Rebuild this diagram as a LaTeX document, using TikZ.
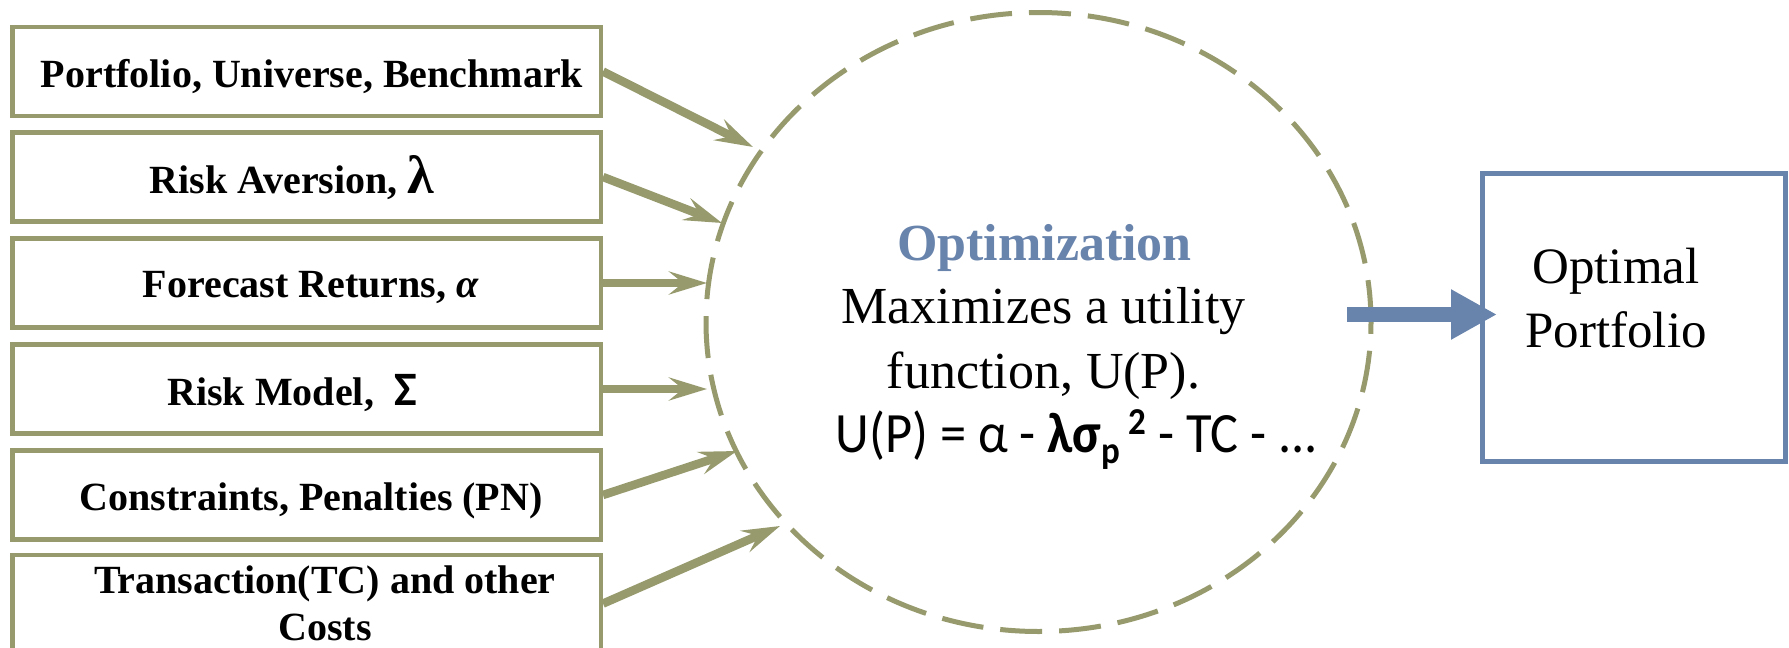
\documentclass[tikz,border=0pt]{standalone}
\usepackage{fontspec}
\setmainfont{Liberation Serif}
\newfontfamily\calfont{Carlito}
\usetikzlibrary{arrows.meta,shapes.geometric}
\definecolor{olivegrn}{RGB}{151,154,108}
\definecolor{steelblu}{RGB}{104,131,172}

% bold index set below / above the baseline
\newcommand{\lowidx}[1]{\raisebox{-5.5pt}{\fontsize{19}{19}\selectfont\bfseries #1}}
\newcommand{\highidx}[1]{\raisebox{9pt}{\fontsize{19}{19}\selectfont\bfseries #1}}

\begin{document}
\begin{tikzpicture}[x=0.5pt,y=-0.5pt,
  inbox/.style={draw=olivegrn, line width=2.25pt, fill=white,
    minimum width=294.25pt, minimum height=44.5pt, inner sep=0pt},
  inlabel/.style={anchor=base, inner sep=0pt, align=center,
    font=\fontsize{20}{23.5}\selectfont\bfseries},
  feed/.style={draw=olivegrn, line width=4.25pt,
    -{Stealth[length=19pt,width=11.5pt,inset=7pt]}},
  bodytext/.style={anchor=base, inner sep=0pt,
    font=\fontsize{26}{30}\selectfont},
]
\useasboundingbox (0,0) rectangle (1789,648);

% input boxes
\node[inbox] (b1) at (306.5,71.5) {};
\node[inbox] (b2) at (306.5,177) {};
\node[inbox] (b3) at (306.5,283) {};
\node[inbox] (b4) at (306.5,389) {};
\node[inbox] (b5) at (306.5,495) {};
\node[inbox, minimum height=48.5pt] (b6) at (306.5,603.6) {};

\node[inlabel] (t1) at (312,87) {Portfolio, Universe, Benchmark};
\node[inlabel] (t2) at (292,193) {Risk Aversion, {\fontsize{27}{27}\selectfont λ}};
\node[inlabel] (t3) at (311,297) {Forecast Returns, \textit{α}};
\node[inlabel] (t4) at (292,405) {Risk Model,\ \ {\calfont\fontsize{24}{24}\selectfont Σ}};
\node[inlabel] (t5) at (311,510) {Constraints, Penalties (PN)};
% multi-line label: the base anchor sits on the last line
\node[inlabel] (t6) at (325,640) {Transaction(TC) and other\\Costs};

% optimizer
\node[draw=olivegrn, line width=2.5pt, dash pattern=on 21pt off 8.5pt,
  ellipse, minimum width=332.5pt, minimum height=309.5pt, inner sep=0pt]
  (opt) at (1038.5,322) {};

\node[bodytext, font=\fontsize{26}{30}\selectfont\bfseries, text=steelblu]
  (ttl) at (1044.5,260) {Optimization};
\node[bodytext] (m1) at (1043.5,323) {Maximizes a utility};
\node[bodytext] (m2) at (1043.5,388) {function, U(P).};
\node[anchor=base, inner sep=0pt, font=\calfont\fontsize{28.5}{30}\selectfont]
  (fm) at (1077,452)
  {\scalebox{0.92}[1]{U(P) = α - \textbf{λσ}\lowidx{p}\,\highidx{2} - TC - ...}};

% arrow tips on the ellipse rim
\coordinate (e1) at (753,147);
\coordinate (e2) at (722,223);
\coordinate (e3) at (707,283);
\coordinate (e4) at (707,389);
\coordinate (e5) at (737,451);
\coordinate (e6) at (780,526);

\draw[feed] (b1.east) -- (e1);
\draw[feed] (b2.east) -- (e2);
\draw[feed] (b3.east) -- (e3);
\draw[feed] (b4.east) -- (e4);
\draw[feed] (b5.east) -- (e5);
\draw[feed] (b6.east) -- (e6);

% result
\node[draw=steelblu, line width=2.5pt, minimum width=151.5pt,
  minimum height=144pt, inner sep=0pt] (out) at (1633.5,317) {};
\node[bodytext, font=\fontsize{25.5}{30}\selectfont] (o1) at (1616,283) {Optimal};
\node[bodytext, font=\fontsize{25.5}{30}\selectfont] (o2) at (1616,347) {Portfolio};

\coordinate (bs) at (1347,314.5);
\coordinate (bt) at (1497,314.5);
\draw[steelblu, line width=7.5pt, -{Triangle[length=23pt,width=23.5pt]}] (bs) -- (bt);
\end{tikzpicture}
\end{document}
